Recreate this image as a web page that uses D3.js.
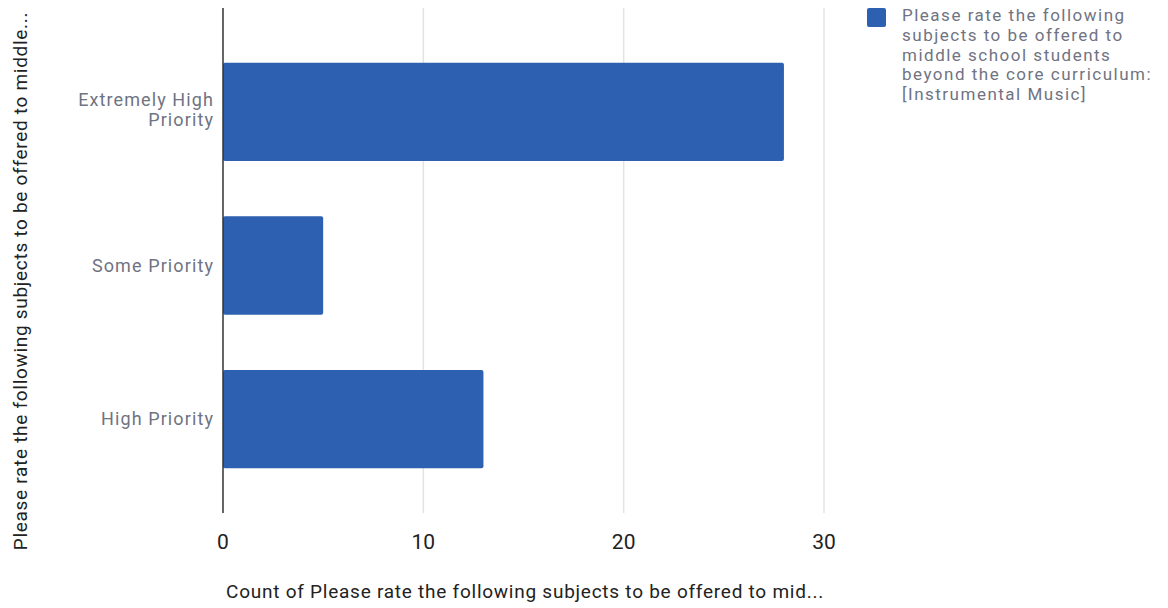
<!DOCTYPE html>
<html><head><meta charset="utf-8">
<script src="https://cdn.jsdelivr.net/npm/d3@7"></script>
<style>body{margin:0;background:#fff;} text{font-family:Roboto,"Noto Sans",sans-serif;}</style>
</head><body><svg id="c" width="1168" height="608"></svg>
<script>
const categories = ["Extremely High Priority", "Some Priority", "High Priority"];
const categoryLines = [["Extremely High", "Priority"], ["Some Priority"], ["High Priority"]];
const values = [28, 5, 13];
const xTicks = [0, 10, 20, 30];
const legendLines = ["Please rate the following", "subjects to be offered to", "middle school students", "beyond the core curriculum:", "[Instrumental Music]"];
const xTitle = "Count of Please rate the following subjects to be offered to mid...";
const yTitle = "Please rate the following subjects to be offered to middle...";

const svg = d3.select("#c");
const barColor = "#2d60b1";
const labelGray = "#707382";
const x = d3.scaleLinear().domain([0, 30]).range([223, 824]);
const y = d3.scaleBand().domain(categories).range([35, 496]).paddingInner(0.36).paddingOuter(0.18);

// gridlines
svg.append("g").selectAll("line").data(xTicks.filter(d => d > 0)).join("line")
  .attr("x1", d => x(d)).attr("x2", d => x(d)).attr("y1", 8).attr("y2", 513)
  .attr("stroke", "#e3e3e3").attr("stroke-width", 1.5);

// bars
svg.append("g").selectAll("rect").data(categories).join("rect")
  .attr("x", x(0)).attr("y", d => y(d))
  .attr("width", (d, i) => x(values[i]) - x(0))
  .attr("height", y.bandwidth())
  .attr("rx", 2)
  .attr("fill", barColor);

// baseline
svg.append("line").attr("x1", x(0)).attr("x2", x(0)).attr("y1", 8).attr("y2", 513)
  .attr("stroke", "#333").attr("stroke-width", 1.5);

// x tick labels
svg.append("g").selectAll("text").data(xTicks).join("text")
  .attr("x", d => x(d)).attr("y", 549).attr("text-anchor", "middle")
  .attr("font-size", 21).attr("fill", "#222").text(d => d);

// category labels
categories.forEach((c, i) => {
  const lines = categoryLines[i];
  const n = lines.length;
  const cy = y(c) + y.bandwidth() / 2;
  const t = svg.append("text").attr("text-anchor", "end").attr("font-size", 18)
    .attr("letter-spacing", 1.1).attr("fill", labelGray);
  lines.forEach((ln, j) => {
    t.append("tspan").attr("x", 214)
      .attr("y", cy + 6 + (j - (n - 1) / 2) * 20 - (n - 1) * 2).text(ln);
  });
});

// x title
svg.append("text").attr("x", 525).attr("y", 598).attr("text-anchor", "middle")
  .attr("font-size", 19).attr("letter-spacing", 0.75).attr("fill", "#222").text(xTitle);

// y title
svg.append("text").attr("transform", "translate(27,281) rotate(-90)")
  .attr("text-anchor", "middle").attr("font-size", 19).attr("letter-spacing", 0.7)
  .attr("fill", "#222").text(yTitle);

// legend
svg.append("rect").attr("x", 867).attr("y", 8).attr("width", 19).attr("height", 19).attr("rx", 2).attr("fill", barColor);
const lt = svg.append("text").attr("font-size", 17).attr("letter-spacing", 1.5).attr("fill", labelGray);
legendLines.forEach((ln, j) => {
  lt.append("tspan").attr("x", 902).attr("y", 21 + j * 19.8).text(ln);
});
</script></body></html>
